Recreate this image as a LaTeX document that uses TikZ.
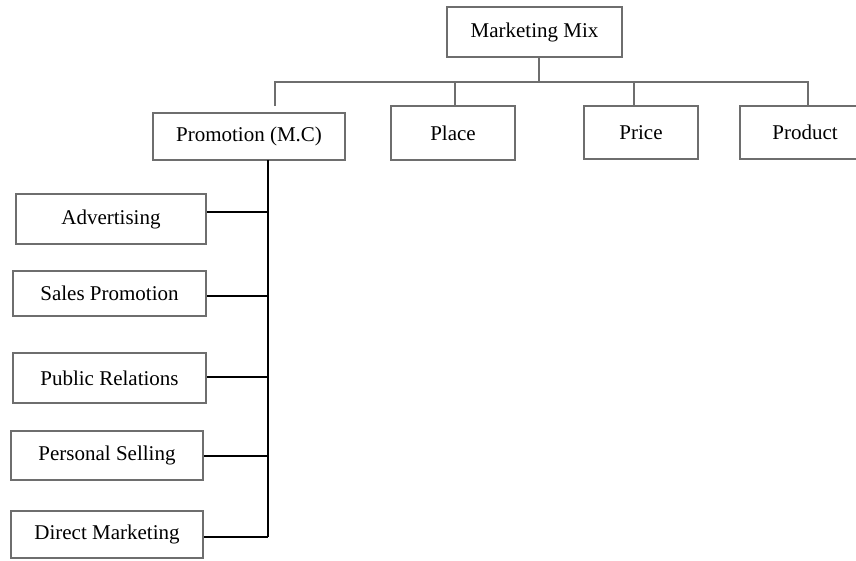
\documentclass[tikz,border=0pt]{standalone}
\usepackage{fontspec}
\setmainfont{Liberation Serif}
\definecolor{boxgrey}{HTML}{6E6E6E}
\begin{document}
\begin{tikzpicture}[x=1pt,y=-1pt,
  box/.style={draw=boxgrey,line width=2pt,fill=white,inner sep=0pt,
    font=\fontsize{21}{25}\selectfont,text=black},
  tree/.style={draw=boxgrey,line width=2pt},
  branch/.style={draw=black,line width=2pt}]
\useasboundingbox (0,0) rectangle (856,560);
\clip (0,0) rectangle (856,560);
% top level
\node[box,minimum width=175pt,minimum height=50pt] (mm) at (534.5,32) {Marketing Mix};
\node[box,minimum width=192pt,minimum height=47pt] (promo) at (249,136.5) {Promotion (M.C)};
\node[box,minimum width=124pt,minimum height=54pt] (place) at (453,133) {Place};
\node[box,minimum width=114pt,minimum height=53pt] (price) at (641,132.5) {Price};
\node[box,minimum width=130pt,minimum height=53pt] (prod) at (805,132.5) {Product};
% promotion tools
\node[box,minimum width=190pt,minimum height=50pt] (adv) at (111,219) {Advertising};
\node[box,minimum width=193pt,minimum height=45pt] (sp) at (109.5,293.5) {Sales Promotion};
\node[box,minimum width=193pt,minimum height=50pt] (pr) at (109.5,378) {Public Relations};
\node[box,minimum width=192pt,minimum height=49pt] (ps) at (107,455.5) {Personal Selling};
\node[box,minimum width=192pt,minimum height=47pt] (dm) at (107,534.5) {Direct Marketing};
% top tree
\coordinate (hub) at (539,82);
\coordinate (pend) at (275,106);
\draw[tree] (hub |- mm.south) -- (hub);
\draw[tree] (pend) |- (hub) -| ([xshift=3pt]prod.north);
\draw[tree] (hub -| place.north) ++(2,0) coordinate (plj) -- (plj |- place.north);
\draw[tree] (hub -| price.north) ++(-7,0) coordinate (prj) -- (prj |- price.north);
% promotion trunk
\coordinate (trunkTop) at (268,160);
\coordinate (trunkBot) at (268,537);
\draw[branch] (trunkTop) -- (trunkBot);
\draw[branch] ([yshift=7pt]adv.east) coordinate (a1) -- (a1 -| trunkTop);
\draw[branch] ([yshift=-2.5pt]sp.east) coordinate (a2) -- (a2 -| trunkTop);
\draw[branch] ([yshift=1pt]pr.east) coordinate (a3) -- (a3 -| trunkTop);
\draw[branch] ([yshift=-0.5pt]ps.east) coordinate (a4) -- (a4 -| trunkTop);
\draw[branch] ([yshift=-2.5pt]dm.east) coordinate (a5) -- (trunkBot);
\end{tikzpicture}
\end{document}
